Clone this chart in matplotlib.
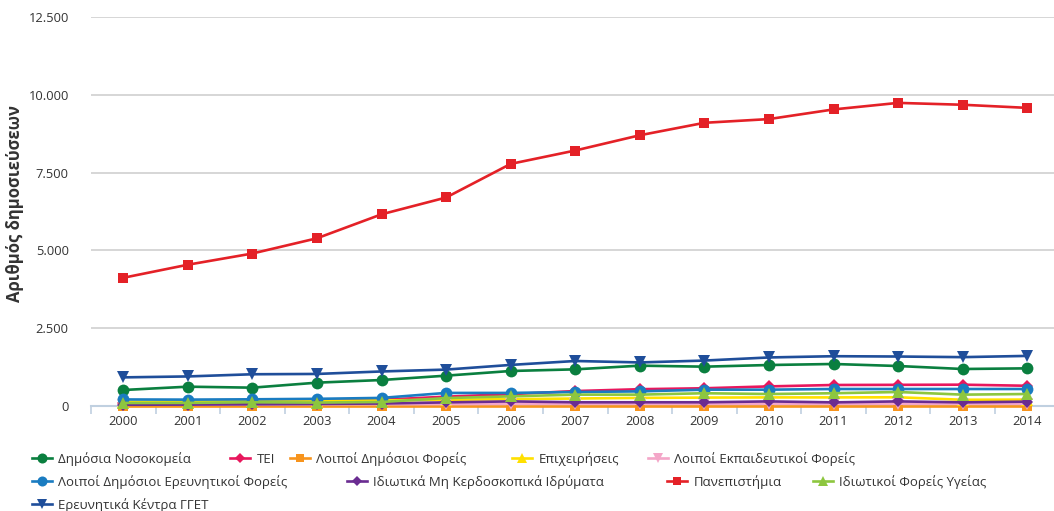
import matplotlib
matplotlib.use("Agg")
import matplotlib.pyplot as plt
from matplotlib.legend import Legend
from matplotlib.ticker import FuncFormatter, FixedLocator

plt.rcParams['font.family'] = ['Open Sans', 'DejaVu Sans']

years = [str(y) for y in range(2000, 2015)]

hospitals = [514, 621, 589, 750, 835, 975, 1125, 1178, 1296, 1264, 1317, 1350, 1285, 1189, 1210]
tei = [110, 120, 140, 160, 200, 300, 380, 480, 540, 570, 630, 675, 680, 685, 650]
other_public = [15, 15, 15, 15, 15, 15, 15, 15, 15, 15, 15, 15, 15, 15, 15]
companies = [130, 140, 150, 160, 180, 200, 220, 240, 260, 270, 276, 276, 280, 200, 206]
other_education = [40, 45, 50, 55, 60, 65, 70, 72, 74, 74, 74, 74, 74, 74, 74]
other_research = [210, 205, 215, 230, 260, 420, 420, 450, 470, 525, 525, 546, 546, 546, 546]
nonprofit = [40, 45, 55, 65, 80, 117, 148, 120, 120, 120, 148, 117, 148, 117, 140]
universities = [4120, 4540, 4900, 5390, 6160, 6700, 7780, 8210, 8700, 9100, 9220, 9530, 9740, 9680, 9580]
private_health = [97, 100, 120, 110, 130, 255, 310, 365, 365, 410, 385, 410, 450, 365, 385]
gsrt_centres = [920, 950, 1020, 1030, 1110, 1170, 1320, 1446, 1400, 1460, 1560, 1600, 1590, 1570, 1610]

series = [
    ("Δημόσια Νοσοκομεία", hospitals, "#0a7f3f", "o", 8.5),
    ("ΤΕΙ", tei, "#e8175d", "D", 6.5),
    ("Λοιποί Δημόσιοι Φορείς", other_public, "#f7941d", "s", 7.5),
    ("Επιχειρήσεις", companies, "#ffe000", "^", 8.5),
    ("Λοιποί Εκπαιδευτικοί Φορείς", other_education, "#f4a6c8", "v", 8.5),
    ("Λοιποί Δημόσιοι Ερευνητικοί Φορείς", other_research, "#1a7cc1", "o", 8.5),
    ("Ιδιωτικά Μη Κερδοσκοπικά Ιδρύματα", nonprofit, "#6a2c91", "D", 6.5),
    ("Πανεπιστήμια", universities, "#e42127", "s", 7.5),
    ("Ιδιωτικοί Φορείς Υγείας", private_health, "#8dc63f", "^", 8.5),
    ("Ερευνητικά Κέντρα ΓΓΕΤ", gsrt_centres, "#1f4e9a", "v", 8.5),
]

fig = plt.figure(figsize=(10.54, 5.11), dpi=100)
ax = fig.add_axes([91 / 1054, 1 - 406 / 511, 968.5 / 1054, 389 / 511])

x = list(range(len(years)))
handles = {}
for i, (name, vals, color, marker, ms) in enumerate(series):
    line, = ax.plot(x, vals, color=color, marker=marker, markersize=ms,
                    linewidth=1.9, markeredgewidth=0, label=name,
                    clip_on=False, zorder=3 + i)
    handles[name] = line

ax.set_xlim(-0.5, 14.5)
ax.set_ylim(0, 12500)
ax.yaxis.set_major_locator(FixedLocator([0, 2500, 5000, 7500, 10000, 12500]))
ax.yaxis.set_major_formatter(FuncFormatter(lambda v, p: f"{int(v):,}".replace(",", ".")))
ax.set_xticks(x)
ax.set_xticklabels(years)
ax.set_xticks([i - 0.5 for i in range(len(years) + 1)], minor=True)

ax.grid(axis="y", color="#d0d0d0", linewidth=1.2, zorder=0)
ax.set_axisbelow(True)
for side in ["top", "right", "left"]:
    ax.spines[side].set_visible(False)
ax.spines["bottom"].set_color("#c0d0e0")
ax.spines["bottom"].set_linewidth(1.5)
ax.spines["bottom"].set_zorder(2)

ax.tick_params(axis="y", length=0, pad=16, labelsize=9.3, labelcolor="#333333")
ax.tick_params(axis="x", which="major", length=0, pad=6.5, labelsize=9.3, labelcolor="#333333")
ax.tick_params(axis="x", which="minor", length=6, width=1.2, color="#c0d0e0", direction="out")

ax.set_ylabel("Αριθμός δημοσιεύσεων", fontsize=12, fontweight="bold", color="#333333")
ax.yaxis.set_label_coords((24 - 91) / 968.5, 0.52)

# Legend items laid out in rows, each anchored by the left end of its key line (pixels)
legend_layout = [
    ("Δημόσια Νοσοκομεία", 32, 459),
    ("ΤΕΙ", 230, 459),
    ("Λοιποί Δημόσιοι Φορείς", 290, 459),
    ("Επιχειρήσεις", 512, 459),
    ("Λοιποί Εκπαιδευτικοί Φορείς", 648, 459),
    ("Λοιποί Δημόσιοι Ερευνητικοί Φορείς", 32, 482),
    ("Ιδιωτικά Μη Κερδοσκοπικά Ιδρύματα", 347, 482),
    ("Πανεπιστήμια", 667, 482),
    ("Ιδιωτικοί Φορείς Υγείας", 813, 482),
    ("Ερευνητικά Κέντρα ΓΓΕΤ", 32, 505),
]
for name, px, py in legend_layout:
    leg = Legend(ax, [handles[name]], [name], loc="center left",
                 bbox_to_anchor=(px / 1054, 1 - py / 511),
                 bbox_transform=fig.transFigure, frameon=False,
                 fontsize=9.5, handlelength=1.5, handletextpad=0.5,
                 borderaxespad=0, borderpad=0, markerscale=0.85,
                 labelcolor="#333333")
    ax.add_artist(leg)

fig.savefig("out.png", dpi=100)
